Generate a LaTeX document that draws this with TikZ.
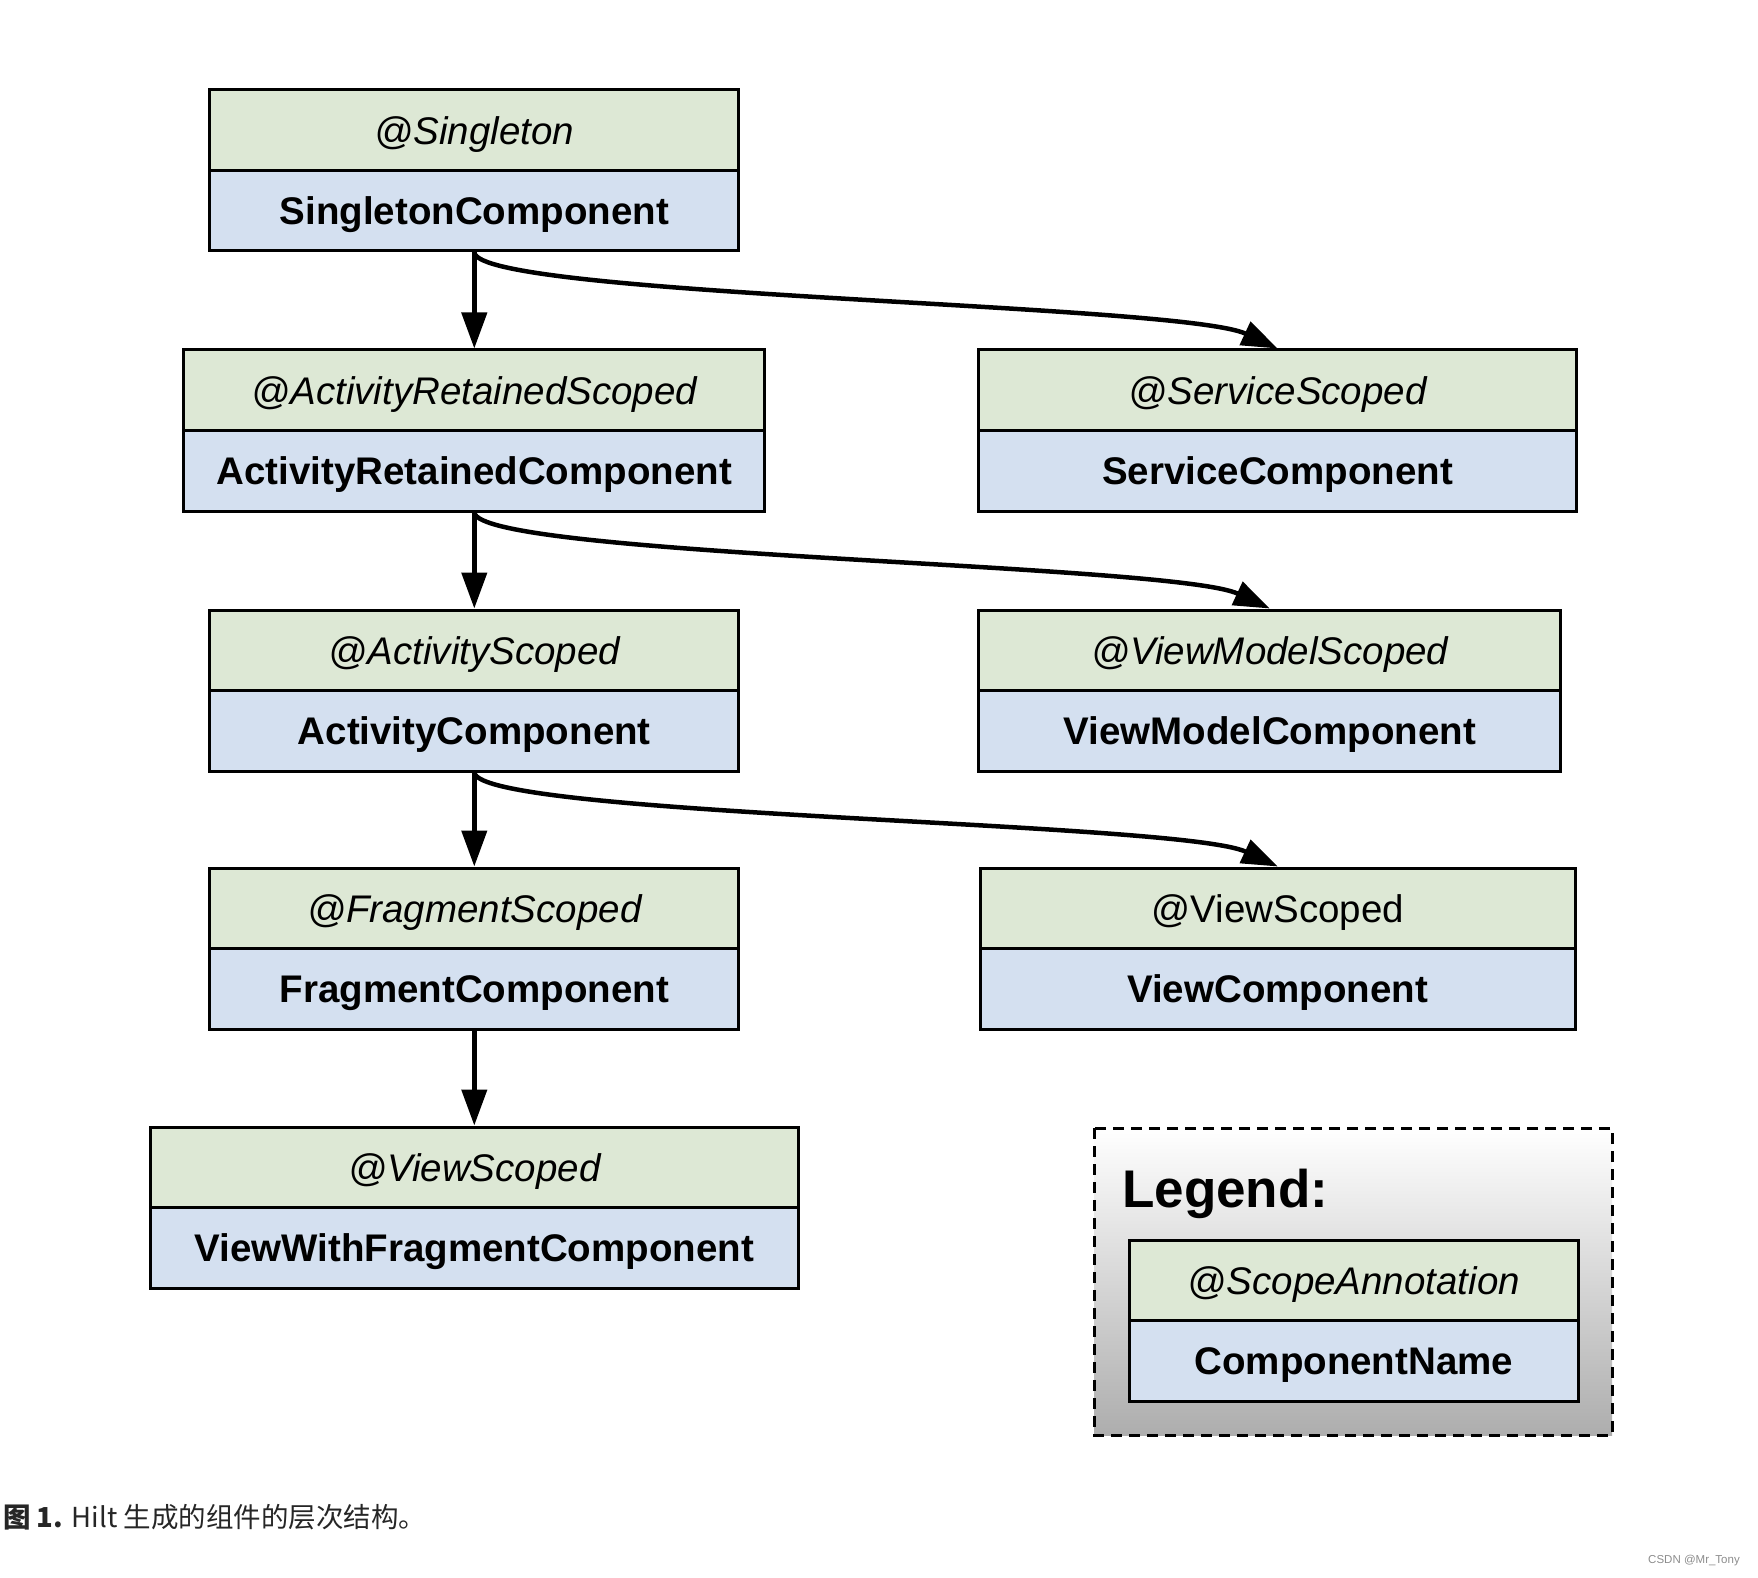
\documentclass[tikz,border=0pt]{standalone}
\usepackage{fontspec}
\setmainfont{Liberation Sans}
\newfontfamily\cjk{Noto Sans CJK SC}
\usetikzlibrary{arrows.meta}
\definecolor{annfill}{RGB}{221,232,213}
\definecolor{compfill}{RGB}{212,224,240}
\tikzset{
  ann/.style={draw=black, line width=3pt, fill=annfill, minimum height=80.5pt, inner sep=0pt,
    text height=28pt, text depth=0pt,
    font=\fontsize{38.5}{44}\selectfont\itshape},
  annup/.style={ann, font=\fontsize{38.5}{44}\selectfont},
  comp/.style={draw=black, line width=3pt, fill=compfill, minimum height=80.5pt, inner sep=0pt,
    text height=28pt, text depth=0pt,
    font=\fontsize{38.5}{44}\selectfont\bfseries},
  arr/.style={line width=4.5pt, -{Triangle[length=36pt,width=25pt]}},
}
\begin{document}
\begin{tikzpicture}[x=1pt,y=-1pt]
\useasboundingbox (0,0) rectangle (1758,1578);
% legend frame
\shade[top color=white, bottom color=black!32, draw=black, line width=3pt, dash pattern=on 11pt off 7pt]
  (1094,1128) rectangle (1612,1435);
\node[anchor=west, inner sep=0pt, font=\fontsize{53}{60}\selectfont\bfseries] (legend) at (1122,1194) {Legend:};
\node[ann, minimum width=449.6pt] (aL) at (1353.8,1280.25) {@ScopeAnnotation};
\node[comp, minimum width=449.6pt] (cL) at (1353.8,1360.75) {ComponentName};
% left column
\node[ann, minimum width=529.2pt] (a1) at (474.3,130.25) {@Singleton};
\node[comp, minimum width=529.2pt] (c1) at (474.3,210.75) {SingletonComponent};
\node[ann, minimum width=580.8pt] (a2) at (474.3,390.25) {@ActivityRetainedScoped};
\node[comp, minimum width=580.8pt] (c2) at (474.3,470.75) {ActivityRetainedComponent};
\node[ann, minimum width=529.2pt] (a3) at (474.3,650.25) {@ActivityScoped};
\node[comp, minimum width=529.2pt] (c3) at (474.3,730.75) {ActivityComponent};
\node[ann, minimum width=529.2pt] (a4) at (474.3,908.25) {@FragmentScoped};
\node[comp, minimum width=529.2pt] (c4) at (474.3,988.75) {FragmentComponent};
\node[ann, minimum width=648.1pt] (a5) at (474.3,1167.25) {@ViewScoped};
\node[comp, minimum width=648.1pt] (c5) at (474.3,1247.75) {ViewWithFragmentComponent};
% right column
\node[ann, minimum width=597.6pt] (aS) at (1277.6,390.25) {@ServiceScoped};
\node[comp, minimum width=597.6pt] (cS) at (1277.6,470.75) {ServiceComponent};
\node[ann, minimum width=582pt] (aM) at (1269.8,650.25) {@ViewModelScoped};
\node[comp, minimum width=582pt] (cM) at (1269.8,730.75) {ViewModelComponent};
\node[annup, minimum width=595.3pt] (aV) at (1277.7,908.25) {@ViewScoped};
\node[comp, minimum width=595.3pt] (cV) at (1277.7,988.75) {ViewComponent};
% arrows
\draw[arr] (c1.south) -- (a2.north);
\draw[arr] (c2.south) -- (a3.north);
\draw[arr] (c3.south) -- (a4.north);
\draw[arr] (c4.south) -- (a5.north);
\draw[arr] (c1.south) .. controls +(5,44) and +(-97,-45) .. (aS.north);
\draw[arr] (c2.south) .. controls +(5,44) and +(-97,-45) .. (aM.north);
\draw[arr] (c3.south) .. controls +(5,44) and +(-97,-45) .. (aV.north);
% caption and mark
\node[anchor=base west, inner sep=0pt, text=black!85, font=\cjk\fontsize{27.5}{32}\selectfont] (cap) at (3,1527)
  {\textbf{图 1.} Hilt 生成的组件的层次结构。};
\node[inner sep=0pt, text=black!45, font=\fontsize{11.5}{13}\selectfont] (mark) at (1694,1561) {CSDN @Mr\_Tony};
\end{tikzpicture}
\end{document}
